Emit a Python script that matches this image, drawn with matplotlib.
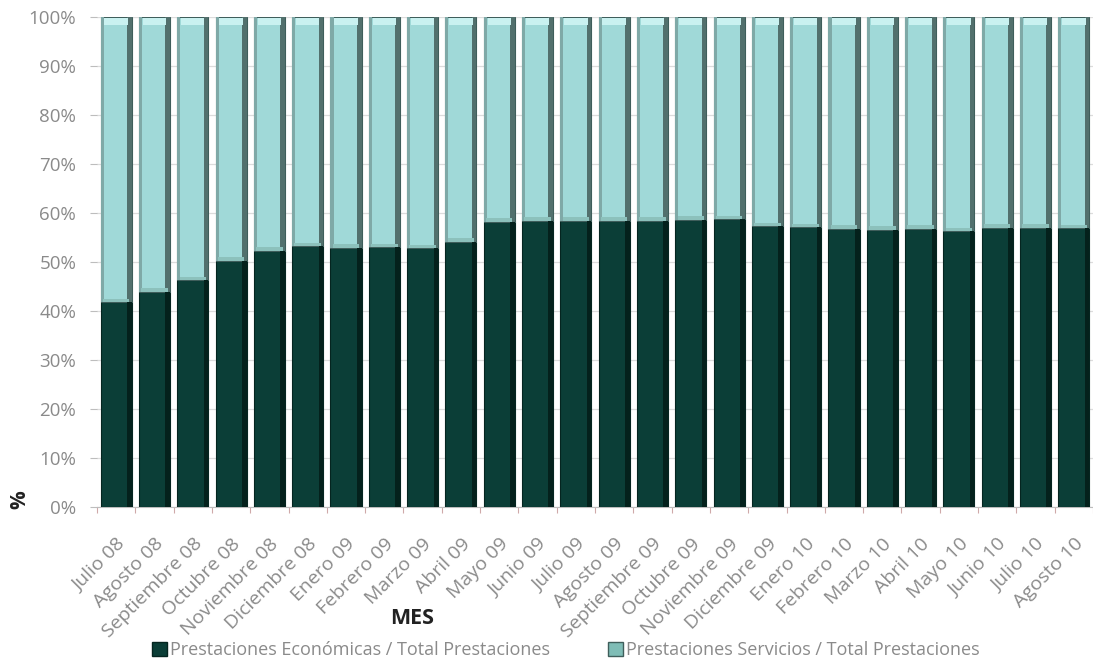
import matplotlib
matplotlib.use("Agg")
import matplotlib.pyplot as plt
from matplotlib.patches import Patch
import numpy as np

plt.rcParams['font.family'] = ['Open Sans', 'DejaVu Sans']

meses = ["Julio 08", "Agosto 08", "Septiembre 08", "Octubre 08", "Noviembre 08",
         "Diciembre 08", "Enero 09", "Febrero 09", "Marzo 09", "Abril 09",
         "Mayo 09", "Junio 09", "Julio 09", "Agosto 09", "Septiembre 09",
         "Octubre 09", "Noviembre 09", "Diciembre 09", "Enero 10", "Febrero 10",
         "Marzo 10", "Abril 10", "Mayo 10", "Junio 10", "Julio 10", "Agosto 10"]

economicas = [41.8, 43.9, 46.3, 50.3, 52.3, 53.2, 52.9, 53.0, 52.8, 54.1,
              58.2, 58.4, 58.4, 58.4, 58.4, 58.6, 58.7, 57.3, 57.1, 56.8,
              56.6, 56.8, 56.3, 57.0, 57.0, 56.9]
servicios = [100 - v for v in economicas]

serie_eco = "Prestaciones Económicas / Total Prestaciones"
serie_serv = "Prestaciones Servicios / Total Prestaciones"

c_eco = "#0b3e37"
c_eco_edge = "#052520"
c_serv = "#a0d9d8"
c_serv_edge = "#3f5e5b"
c_text = "#8a8a8a"

W, H = 1093, 665
fig = plt.figure(figsize=(W / 100, H / 100), dpi=100)
ax = fig.add_axes([97 / W, 158 / H, 996 / W, 490 / H])

x = np.arange(len(meses))
bw = 0.81

eco = np.array(economicas)
serv = np.array(servicios)

# stacked bars
ax.bar(x, eco, width=bw, color=c_eco, edgecolor=c_eco_edge, linewidth=0.8, zorder=3)
ax.bar(x, serv, width=bw, bottom=eco, color=c_serv, edgecolor=c_serv_edge,
       linewidth=0.8, zorder=3)

# shading on the right side of each column for a rounded look
ax.bar(x + bw / 2 - 0.06, eco, width=0.12, color="#04211c", linewidth=0, zorder=4)
ax.bar(x + bw / 2 - 0.06, serv, width=0.12, bottom=eco, color="#52706d",
       linewidth=0, zorder=4)
ax.bar(x - bw / 2 + 0.04, serv, width=0.08, bottom=eco, color="#7fa9a7",
       linewidth=0, zorder=4)

# thin highlight where the two segments meet
ax.bar(x, 0.7, width=bw - 0.12, bottom=eco, color="#8cc1bc", linewidth=0, zorder=5)
# light cap at the top of each column
ax.bar(x, 1.4, width=bw - 0.2, bottom=100 - 1.6, color="#c9f1f0", linewidth=0, zorder=5)

ax.set_xlim(-0.5, len(meses) - 0.5)
ax.set_ylim(0, 100)

ax.set_yticks(np.arange(0, 101, 10))
ax.set_yticklabels([f"{v}%" for v in range(0, 101, 10)])
ax.yaxis.grid(True, color="#dcdcdc", linewidth=0.9, zorder=0)
ax.set_axisbelow(True)

ax.set_xticks(x)
ax.set_xticklabels(meses, rotation=45, ha="right", rotation_mode="anchor")
ax.set_xticks(np.arange(-0.5, len(meses), 1), minor=True)
ax.tick_params(axis="x", which="major", length=0, pad=20, labelsize=14,
               labelcolor=c_text)
ax.tick_params(axis="x", which="minor", length=4, color="#cfa9a9", width=0.8)
ax.tick_params(axis="y", length=5, color="#bdbdbd", pad=10, labelsize=13.5,
               labelcolor=c_text)

for side in ("top", "right", "left"):
    ax.spines[side].set_visible(False)
ax.spines["bottom"].set_color("#bdbdbd")

fig.text(20 / W, 1 - 500 / H, "%", rotation=90, ha="center", va="center",
         fontsize=15, fontweight="bold", color="#222222")
fig.text(412 / W, 1 - 618 / H, "MES", ha="center", va="center",
         fontsize=15.5, fontweight="bold", color="#222222")

handles = [Patch(facecolor=c_eco, edgecolor=c_eco_edge),
           Patch(facecolor="#7fbdb6", edgecolor="#3f5e5b")]
fig.legend(handles, [serie_eco, serie_serv], loc="center",
           bbox_to_anchor=(566 / W, 15 / H), ncol=2, frameon=False,
           fontsize=13, labelcolor=c_text, handlelength=0.8, handleheight=0.8,
           handletextpad=0.2, columnspacing=3.2)

fig.savefig("out.png", dpi=100, facecolor="white")
